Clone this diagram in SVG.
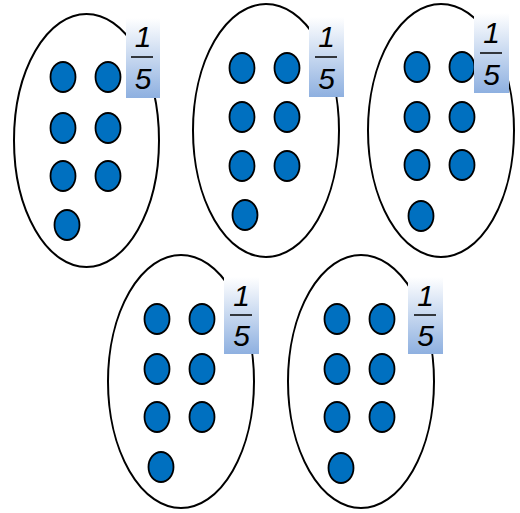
<svg xmlns="http://www.w3.org/2000/svg" width="520" height="513" viewBox="0 0 520 513">
<defs>
<linearGradient id="lg" x1="0" y1="0" x2="0" y2="1">
<stop offset="0" stop-color="#ffffff"/>
<stop offset="1" stop-color="#8eb0e0"/>
</linearGradient>
<style>
.oval{fill:#fff;stroke:#000;stroke-width:2}
.dot{fill:#0070c0;stroke:#000;stroke-width:1.8}
.box{fill:url(#lg)}
.t{font-family:"Liberation Sans",Arial,sans-serif;font-style:italic;font-size:30px;fill:#000;text-anchor:middle}
.bar{stroke:#000;stroke-width:1.5}
</style>
</defs>
<rect width="520" height="513" fill="#fff"/>
<g id="group1">
<ellipse class="oval" cx="86.5" cy="140.5" rx="72.5" ry="126.5"/>
<ellipse class="dot" cx="63" cy="77" rx="12.5" ry="15"/>
<ellipse class="dot" cx="108" cy="77" rx="12.5" ry="15"/>
<ellipse class="dot" cx="63" cy="128" rx="12.5" ry="15"/>
<ellipse class="dot" cx="108" cy="128" rx="12.5" ry="15"/>
<ellipse class="dot" cx="63" cy="176" rx="12.5" ry="15"/>
<ellipse class="dot" cx="108" cy="176" rx="12.5" ry="15"/>
<ellipse class="dot" cx="67" cy="225" rx="12.5" ry="15"/>
<rect class="box" x="126" y="18" width="34" height="80"/>
<text class="t" x="143" y="47">1</text>
<line class="bar" x1="131" y1="57" x2="153" y2="57"/>
<text class="t" x="143" y="89">5</text>
</g>
<g id="group2">
<ellipse class="oval" cx="266" cy="130.5" rx="73" ry="126.5"/>
<ellipse class="dot" cx="242" cy="68" rx="12.5" ry="15"/>
<ellipse class="dot" cx="287" cy="68" rx="12.5" ry="15"/>
<ellipse class="dot" cx="242" cy="117" rx="12.5" ry="15"/>
<ellipse class="dot" cx="287" cy="117" rx="12.5" ry="15"/>
<ellipse class="dot" cx="242" cy="166" rx="12.5" ry="15"/>
<ellipse class="dot" cx="287" cy="166" rx="12.5" ry="15"/>
<ellipse class="dot" cx="245" cy="215" rx="12.5" ry="15"/>
<rect class="box" x="309" y="17" width="35" height="80"/>
<text class="t" x="326.5" y="47">1</text>
<line class="bar" x1="315" y1="57" x2="337" y2="57"/>
<text class="t" x="326.5" y="89">5</text>
</g>
<g id="group3">
<ellipse class="oval" cx="441" cy="130.5" rx="73" ry="126.5"/>
<ellipse class="dot" cx="417" cy="67" rx="12.5" ry="15"/>
<ellipse class="dot" cx="462" cy="67" rx="12.5" ry="15"/>
<ellipse class="dot" cx="417" cy="117" rx="12.5" ry="15"/>
<ellipse class="dot" cx="462" cy="117" rx="12.5" ry="15"/>
<ellipse class="dot" cx="417" cy="165" rx="12.5" ry="15"/>
<ellipse class="dot" cx="462" cy="165" rx="12.5" ry="15"/>
<ellipse class="dot" cx="421" cy="216" rx="12.5" ry="15"/>
<rect class="box" x="474" y="13" width="35" height="80"/>
<text class="t" x="491.5" y="43">1</text>
<line class="bar" x1="480" y1="53" x2="502" y2="53"/>
<text class="t" x="491.5" y="85">5</text>
</g>
<g id="group4">
<ellipse class="oval" cx="181" cy="381.5" rx="73" ry="126.5"/>
<ellipse class="dot" cx="157" cy="319" rx="12.5" ry="15"/>
<ellipse class="dot" cx="202" cy="319" rx="12.5" ry="15"/>
<ellipse class="dot" cx="157" cy="369" rx="12.5" ry="15"/>
<ellipse class="dot" cx="202" cy="369" rx="12.5" ry="15"/>
<ellipse class="dot" cx="157" cy="417" rx="12.5" ry="15"/>
<ellipse class="dot" cx="202" cy="417" rx="12.5" ry="15"/>
<ellipse class="dot" cx="161" cy="467" rx="12.5" ry="15"/>
<rect class="box" x="224" y="277" width="35" height="77"/>
<text class="t" x="241.5" y="306">1</text>
<line class="bar" x1="230" y1="315" x2="252" y2="315"/>
<text class="t" x="241.5" y="346">5</text>
</g>
<g id="group5">
<ellipse class="oval" cx="361" cy="381.5" rx="73" ry="126.5"/>
<ellipse class="dot" cx="337" cy="319" rx="12.5" ry="15"/>
<ellipse class="dot" cx="382" cy="319" rx="12.5" ry="15"/>
<ellipse class="dot" cx="337" cy="369" rx="12.5" ry="15"/>
<ellipse class="dot" cx="382" cy="369" rx="12.5" ry="15"/>
<ellipse class="dot" cx="337" cy="417" rx="12.5" ry="15"/>
<ellipse class="dot" cx="382" cy="417" rx="12.5" ry="15"/>
<ellipse class="dot" cx="341" cy="468" rx="12.5" ry="15"/>
<rect class="box" x="408" y="277" width="35" height="77"/>
<text class="t" x="425.5" y="306">1</text>
<line class="bar" x1="414" y1="315" x2="436" y2="315"/>
<text class="t" x="425.5" y="346">5</text>
</g>
<g id="connectors"/>
</svg>
